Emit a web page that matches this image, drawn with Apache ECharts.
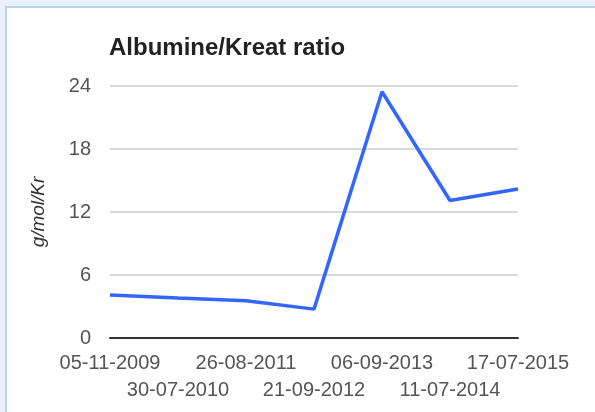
<!DOCTYPE html>
<html>
<head>
<meta charset="utf-8">
<script src="https://cdn.jsdelivr.net/npm/echarts@6/dist/echarts.min.js"></script>
<style>
  html, body { margin: 0; padding: 0; background: #eaf2fd; }
  #chart { width: 595px; height: 412px; }
</style>
</head>
<body>
<div id="chart"></div>
<script>
// data
const dates = ["05-11-2009", "30-07-2010", "26-08-2011", "21-09-2012", "06-09-2013", "11-07-2014", "17-07-2015"];
const ratio = [4.1, 3.8, 3.55, 2.75, 23.45, 13.1, 14.2];
const yTicks = [0, 6, 12, 18, 24];

const chart = echarts.init(document.getElementById("chart"));
const option = {
  backgroundColor: "#eaf2fd",
  animation: false,
  // white card with light blue border
  graphic: [{
    type: "rect",
    shape: { x: 6, y: 7, width: 600, height: 420 },
    style: { fill: "#ffffff", stroke: "#bcd2ef", lineWidth: 2 },
    z: -10
  }],
  title: {
    text: "Albumine/Kreat ratio",
    left: 109,
    top: 36,
    padding: 0,
    textStyle: { fontFamily: "Liberation Sans", fontSize: 24, fontWeight: "bold", color: "#222" }
  },
  grid: { left: 110, right: 77, top: 86, bottom: 74 },
  xAxis: {
    type: "category",
    data: dates,
    boundaryGap: false,
    axisLine: { lineStyle: { color: "#333", width: 2 } },
    axisTick: { show: false },
    splitLine: { show: false },
    axisLabel: {
      interval: 0,
      margin: 12,
      color: "#555",
      fontFamily: "Liberation Sans",
      fontSize: 20,
      lineHeight: 27,
      formatter: (v, i) => (i % 2 === 1 ? "\n" + v : v)
    }
  },
  yAxis: {
    type: "value",
    min: yTicks[0],
    max: yTicks[yTicks.length - 1],
    interval: 6,
    name: "g/mol/Kr",
    nameLocation: "middle",
    nameGap: 62,
    nameTextStyle: { fontFamily: "Liberation Sans", fontStyle: "italic", fontSize: 19, color: "#333" },
    axisLine: { show: false },
    axisTick: { show: false },
    axisLabel: { margin: 19, color: "#555", fontFamily: "Liberation Sans", fontSize: 20 },
    splitLine: { lineStyle: { color: "#cccccc", width: 1.5 } }
  },
  series: [{
    type: "line",
    data: ratio,
    symbol: "none",
    lineStyle: { color: "#3366ff", width: 3.5 },
    itemStyle: { color: "#3366ff" }
  }]
};
chart.setOption(option);
</script>
</body>
</html>
